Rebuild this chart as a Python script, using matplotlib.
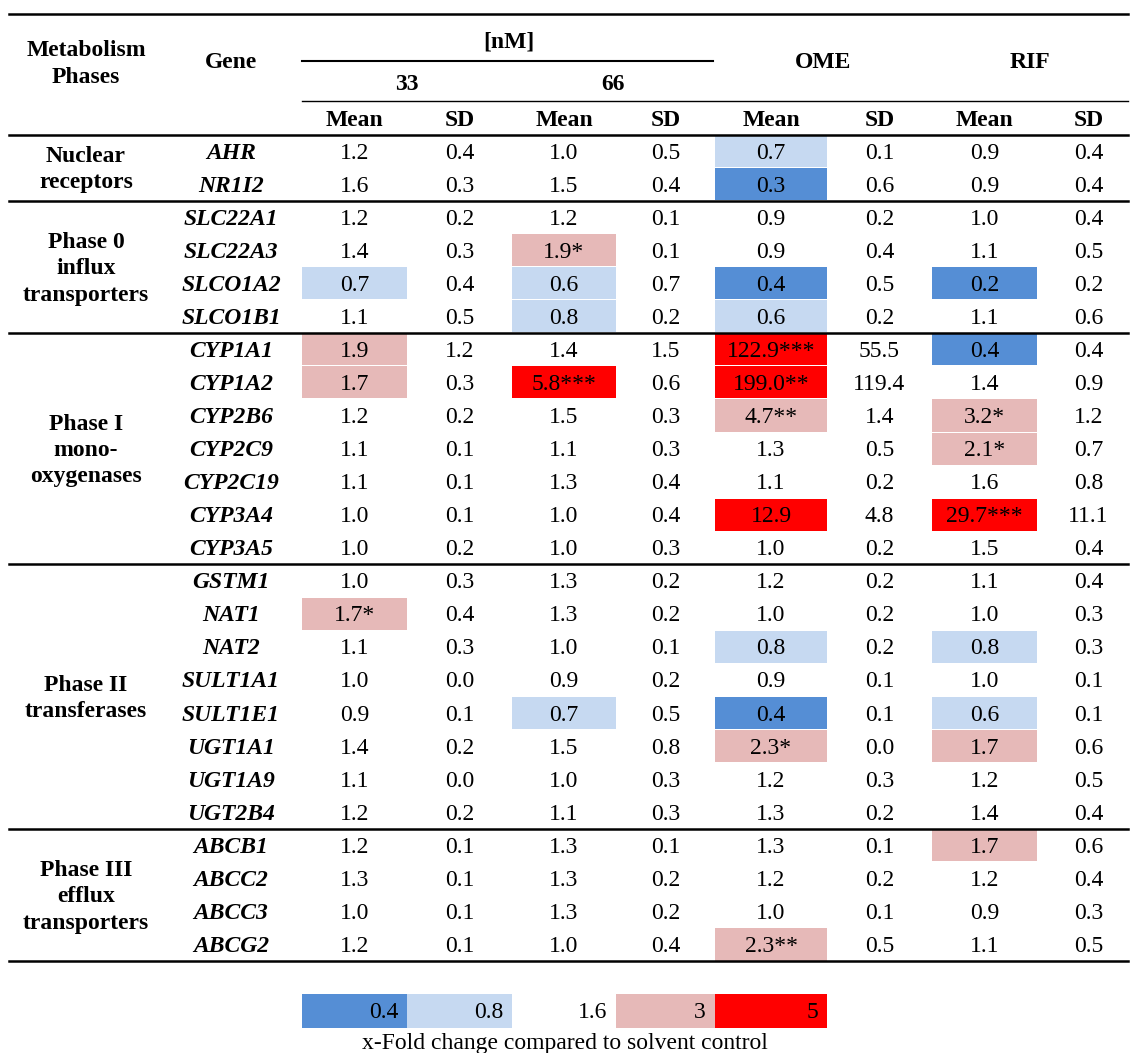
import matplotlib.pyplot as plt
from matplotlib.colors import ListedColormap, BoundaryNorm

# table content
phases = ["Nuclear\nreceptors", "Phase 0\ninflux\ntransporters", "Phase I\nmono-\noxygenases",
          "Phase II\ntransferases", "Phase III\nefflux\ntransporters"]
phase_sizes = [2, 4, 7, 8, 4]
genes = ["AHR", "NR1I2",
         "SLC22A1", "SLC22A3", "SLCO1A2", "SLCO1B1",
         "CYP1A1", "CYP1A2", "CYP2B6", "CYP2C9", "CYP2C19", "CYP3A4", "CYP3A5",
         "GSTM1", "NAT1", "NAT2", "SULT1A1", "SULT1E1", "UGT1A1", "UGT1A9", "UGT2B4",
         "ABCB1", "ABCC2", "ABCC3", "ABCG2"]

mean_33 = [1.2, 1.6, 1.2, 1.4, 0.7, 1.1, 1.9, 1.7, 1.2, 1.1, 1.1, 1.0, 1.0,
           1.0, 1.7, 1.1, 1.0, 0.9, 1.4, 1.1, 1.2, 1.2, 1.3, 1.0, 1.2]
sd_33 = [0.4, 0.3, 0.2, 0.3, 0.4, 0.5, 1.2, 0.3, 0.2, 0.1, 0.1, 0.1, 0.2,
         0.3, 0.4, 0.3, 0.0, 0.1, 0.2, 0.0, 0.2, 0.1, 0.1, 0.1, 0.1]
mean_66 = [1.0, 1.5, 1.2, 1.9, 0.6, 0.8, 1.4, 5.8, 1.5, 1.1, 1.3, 1.0, 1.0,
           1.3, 1.3, 1.0, 0.9, 0.7, 1.5, 1.0, 1.1, 1.3, 1.3, 1.3, 1.0]
sd_66 = [0.5, 0.4, 0.1, 0.1, 0.7, 0.2, 1.5, 0.6, 0.3, 0.3, 0.4, 0.4, 0.3,
         0.2, 0.2, 0.1, 0.2, 0.5, 0.8, 0.3, 0.3, 0.1, 0.2, 0.2, 0.4]
mean_ome = [0.7, 0.3, 0.9, 0.9, 0.4, 0.6, 122.9, 199.0, 4.7, 1.3, 1.1, 12.9, 1.0,
            1.2, 1.0, 0.8, 0.9, 0.4, 2.3, 1.2, 1.3, 1.3, 1.2, 1.0, 2.3]
sd_ome = [0.1, 0.6, 0.2, 0.4, 0.5, 0.2, 55.5, 119.4, 1.4, 0.5, 0.2, 4.8, 0.2,
          0.2, 0.2, 0.2, 0.1, 0.1, 0.0, 0.3, 0.2, 0.1, 0.2, 0.1, 0.5]
mean_rif = [0.9, 0.9, 1.0, 1.1, 0.2, 1.1, 0.4, 1.4, 3.2, 2.1, 1.6, 29.7, 1.5,
            1.1, 1.0, 0.8, 1.0, 0.6, 1.7, 1.2, 1.4, 1.7, 1.2, 0.9, 1.1]
sd_rif = [0.4, 0.4, 0.4, 0.5, 0.2, 0.6, 0.4, 0.9, 1.2, 0.7, 0.8, 11.1, 0.4,
          0.4, 0.3, 0.3, 0.1, 0.1, 0.6, 0.5, 0.4, 0.6, 0.4, 0.3, 0.5]

sig_33 = [""] * 25
sig_33[14] = "*"
sig_66 = [""] * 25
sig_66[3] = "*"
sig_66[7] = "***"
sig_ome = [""] * 25
sig_ome[6] = "***"
sig_ome[7] = "**"
sig_ome[8] = "**"
sig_ome[18] = "*"
sig_ome[24] = "**"
sig_rif = [""] * 25
sig_rif[8] = "*"
sig_rif[9] = "*"
sig_rif[11] = "***"

legend_values = [0.4, 0.8, 1.6, 3, 5]
legend_title = "x-Fold change compared to solvent control"

# colour classes for the fold change
cmap = ListedColormap(["#558ED5", "#C6D9F1", "white", "#E6B9B8", "#FF0000"])
norm = BoundaryNorm([0, 0.45, 0.85, 1.65, 4.95, 1e6], 5)

plt.rcParams['font.family'] = 'Liberation Serif'
fs = 17

fig = plt.figure(figsize=(11.3, 10.53), dpi=100)
ax = fig.add_axes([0, 0, 1, 1])
ax.set_xlim(0, 1130)
ax.set_ylim(1053, 0)
ax.axis('off')

col_edges = [302, 407, 512, 616, 715, 827, 932, 1037, 1140]
col_x = [(col_edges[i] + col_edges[i + 1]) / 2 for i in range(8)]
row_top = 134.5
row_h = 33.06

columns = [(mean_33, sig_33), (sd_33, None), (mean_66, sig_66), (sd_66, None),
           (mean_ome, sig_ome), (sd_ome, None), (mean_rif, sig_rif), (sd_rif, None)]

# header
ax.text(86, 64, "Metabolism\nPhases", ha='center', va='center', fontsize=fs,
        fontweight='bold', linespacing=1.35)
ax.text(231, 63, "Gene", ha='center', va='center', fontsize=fs, fontweight='bold')
ax.text((col_edges[0] + col_edges[4]) / 2, 42, "[nM]", ha='center', va='center',
        fontsize=fs, fontweight='bold')
ax.text((col_edges[0] + col_edges[2]) / 2, 84, "33", ha='center', va='center',
        fontsize=fs, fontweight='bold')
ax.text((col_edges[2] + col_edges[4]) / 2, 84, "66", ha='center', va='center',
        fontsize=fs, fontweight='bold')
ax.text((col_edges[4] + col_edges[6]) / 2, 63, "OME", ha='center', va='center',
        fontsize=fs, fontweight='bold')
ax.text((col_edges[6] + 1128) / 2, 63, "RIF", ha='center', va='center',
        fontsize=fs, fontweight='bold')
for i in range(8):
    ax.text(col_x[i], 120, "Mean" if i % 2 == 0 else "SD", ha='center', va='center',
            fontsize=fs, fontweight='bold')

ax.plot([9, 1128], [14, 14], color='black', lw=1.8)
ax.plot([302, 713], [61, 61], color='black', lw=1.5)
ax.plot([302, 1128], [101, 101], color='black', lw=1.0)

# body
for r, g in enumerate(genes):
    y0 = row_top + r * row_h
    yc = y0 + row_h / 2 + 2
    ax.text(231, yc, g, ha='center', va='center', fontsize=fs, fontweight='bold',
            fontstyle='italic')
    for c, (vals, sig) in enumerate(columns):
        v = vals[r]
        if sig is not None:
            color = cmap(norm(v))
            if v < 0.85 or v >= 1.65:
                ax.bar(col_x[c], row_h - 1, width=col_edges[c + 1] - col_edges[c] if c < 7 else 105,
                       bottom=y0 + 0.5, color=color, zorder=1)
            txt = f"{v:.1f}" + sig[r]
        else:
            txt = f"{v:.1f}"
        ax.text(col_x[c], yc, txt, ha='center', va='center', fontsize=fs, zorder=3)

# phase labels and separators
start = 0
for name, n in zip(phases, phase_sizes):
    y0 = row_top + start * row_h
    y1 = row_top + (start + n) * row_h
    ax.text(86, (y0 + y1) / 2 + 2, name, ha='center', va='center', fontsize=fs,
            fontweight='bold', linespacing=1.33)
    ax.plot([9, 1128], [y0, y0], color='black', lw=1.8, zorder=4)
    start += n
ax.plot([9, 1128], [row_top + start * row_h] * 2, color='black', lw=1.8, zorder=4)

# legend
for i, v in enumerate(legend_values):
    ax.bar((col_edges[i] + col_edges[i + 1]) / 2, 34, width=col_edges[i + 1] - col_edges[i],
           bottom=994, color=cmap(norm(v)))
    ax.text(col_edges[i + 1] - 9, 1012, f"{v:g}", ha='right', va='center', fontsize=fs)
ax.text(565, 1044, legend_title, ha='center', va='center', fontsize=fs)

fig.savefig('out.png', dpi=100)
